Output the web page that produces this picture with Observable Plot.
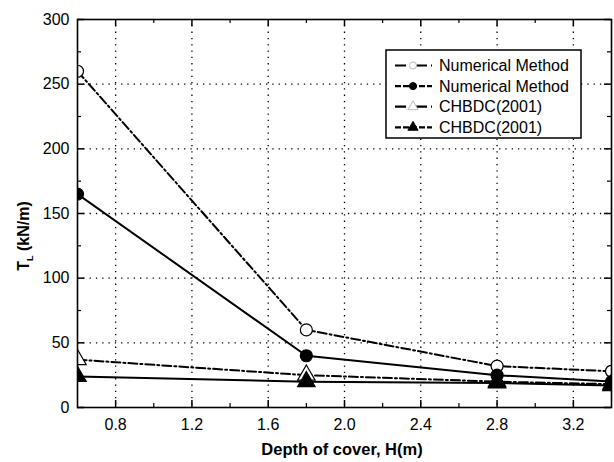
<!DOCTYPE html>
<html>
<head>
<meta charset="utf-8">
<script src="https://cdn.jsdelivr.net/npm/d3@7"></script>
<script src="https://cdn.jsdelivr.net/npm/@observablehq/plot@0.6"></script>
<style>
  html, body { margin: 0; padding: 0; background: #fff; }
  #chart { position: relative; width: 614px; height: 462px; }
  svg { font-family: "Liberation Sans", Arial, sans-serif; }
</style>
</head>
<body>
<div id="chart"></div>
<script>
const depth = [0.6, 1.8, 2.8, 3.4];
const numOpen = [260, 60, 32, 28];
const numFilled = [165, 40, 25, 20];
const chbdcOpen = [37, 25, 20, 18];
const chbdcFilled = [24, 20, 19, 17];
const seriesNames = ["Numerical Method", "Numerical Method", "CHBDC(2001)", "CHBDC(2001)"];
const xMajor = [0.8, 1.2, 1.6, 2.0, 2.4, 2.8, 3.2];
const xMinor = [1.0, 1.4, 1.8, 2.2, 2.6, 3.0];
const yMajor = [0, 50, 100, 150, 200, 250, 300];
const yMinor = [25, 75, 125, 175, 225, 275];

const W = 614, H = 462, mL = 77, mR = 3, mT = 19, mB = 55;
const plotH = H - mT - mB, plotW = W - mL - mR;

const series = [
  {name: seriesNames[0], values: numOpen, symbol: "circle", fill: "white", dash: "9,3,2,3"},
  {name: seriesNames[1], values: numFilled, symbol: "circle", fill: "black", dash: null},
  {name: seriesNames[2], values: chbdcOpen, symbol: "triangle", fill: "white", dash: "9,3,2,3"},
  {name: seriesNames[3], values: chbdcFilled, symbol: "triangle", fill: "black", dash: null}
];
const rows = series.flatMap((s, i) => depth.map((d, j) => ({k: i, x: d, y: s.values[j]})));

const lineMarks = series.map((s, i) => Plot.line(rows.filter(r => r.k === i), {
  x: "x", y: "y", stroke: "black", strokeWidth: 2,
  strokeDasharray: s.dash, clip: "frame"
}));
const dotMarks = series.map((s, i) => Plot.dot(rows.filter(r => r.k === i), {
  x: "x", y: "y", symbol: () => s.symbol, r: s.symbol === "circle" ? 6 : 6.5,
  fill: s.fill, stroke: "black", strokeWidth: 1.2, clip: "frame"
}));

// inward tick marks (major / minor, all four sides)
const tickMarks = [
  Plot.ruleX(xMajor, {x: d => d, stroke: "black", strokeWidth: 1.5, insetTop: plotH - 7}),
  Plot.ruleX(xMinor, {x: d => d, stroke: "black", strokeWidth: 1.2, insetTop: plotH - 4}),
  Plot.ruleX(xMajor, {x: d => d, stroke: "black", strokeWidth: 1.5, insetBottom: plotH - 7}),
  Plot.ruleX(xMinor, {x: d => d, stroke: "black", strokeWidth: 1.2, insetBottom: plotH - 4}),
  Plot.ruleY(yMajor, {y: d => d, stroke: "black", strokeWidth: 1.5, insetRight: plotW - 7}),
  Plot.ruleY(yMinor, {y: d => d, stroke: "black", strokeWidth: 1.2, insetRight: plotW - 4}),
  Plot.ruleY(yMajor, {y: d => d, stroke: "black", strokeWidth: 1.5, insetLeft: plotW - 7}),
  Plot.ruleY(yMinor, {y: d => d, stroke: "black", strokeWidth: 1.2, insetLeft: plotW - 4})
];

const chart = Plot.plot({
  width: W,
  height: H,
  marginLeft: mL,
  marginRight: mR,
  marginTop: mT,
  marginBottom: mB,
  style: {fontFamily: "Liberation Sans, Arial, sans-serif", fontSize: "16px", color: "black", background: "white"},
  x: {domain: [0.6, 3.4]},
  y: {domain: [0, 300]},
  symbol: {type: "identity"},
  marks: [
    Plot.gridX(xMajor, {stroke: "black", strokeOpacity: 1, strokeWidth: 1.3, strokeDasharray: "1.3,5"}),
    Plot.gridY(yMajor.slice(1, -1), {stroke: "black", strokeOpacity: 1, strokeWidth: 1.3, strokeDasharray: "1.3,5"}),
    Plot.axisX(xMajor, {anchor: "bottom", tickSize: 0, tickPadding: 11, tickFormat: d3.format(".1f"), fontSize: 16, label: null}),
    Plot.axisY(yMajor, {anchor: "left", tickSize: 0, tickPadding: 8, fontSize: 16, label: null}),
    ...tickMarks,
    ...lineMarks,
    ...dotMarks,
    Plot.frame({stroke: "black", strokeWidth: 1.6})
  ]
});

document.getElementById("chart").appendChild(chart);
const svg = d3.select(chart);

// axis titles
svg.append("text")
  .attr("x", 342).attr("y", 455)
  .attr("text-anchor", "middle")
  .attr("font-weight", "bold").attr("font-size", 16.5)
  .attr("fill", "black")
  .text("Depth of cover, H(m)");

const yl = svg.append("text")
  .attr("transform", "translate(29,236) rotate(-90)")
  .attr("text-anchor", "middle")
  .attr("font-weight", "bold").attr("font-size", 16)
  .attr("fill", "black");
yl.append("tspan").text("T");
yl.append("tspan").attr("font-size", 9).attr("dy", 4).text("L");
yl.append("tspan").attr("dy", -4).text(" (kN/m)");

// legend
const lg = svg.append("g").attr("transform", "translate(386,50)");
lg.append("rect").attr("width", 195).attr("height", 88)
  .attr("fill", "white").attr("stroke", "black").attr("stroke-width", 1.5);
series.forEach((s, i) => {
  const cy = 15.5 + i * 20.6;
  const g = lg.append("g").attr("transform", `translate(0,${cy})`);
  g.append("line").attr("x1", 9).attr("x2", 46).attr("y1", 0).attr("y2", 0)
    .attr("stroke", "black").attr("stroke-width", 2.2)
    .attr("stroke-dasharray", s.dash ? "11,4,2,4" : "6,2");
  const sym = d3.symbol().type(s.symbol === "circle" ? d3.symbolCircle : d3.symbolTriangle).size(s.symbol === "circle" ? 40 : 45);
  g.append("path").attr("d", sym()).attr("transform", "translate(27,0)")
    .attr("fill", s.fill).attr("stroke", s.fill === "white" ? "#bbb" : "black").attr("stroke-width", 1);
  g.append("text").attr("x", 53).attr("y", 5.5).attr("text-anchor", "start")
    .attr("font-size", 16).attr("fill", "black").text(s.name);
});
</script>
</body>
</html>
